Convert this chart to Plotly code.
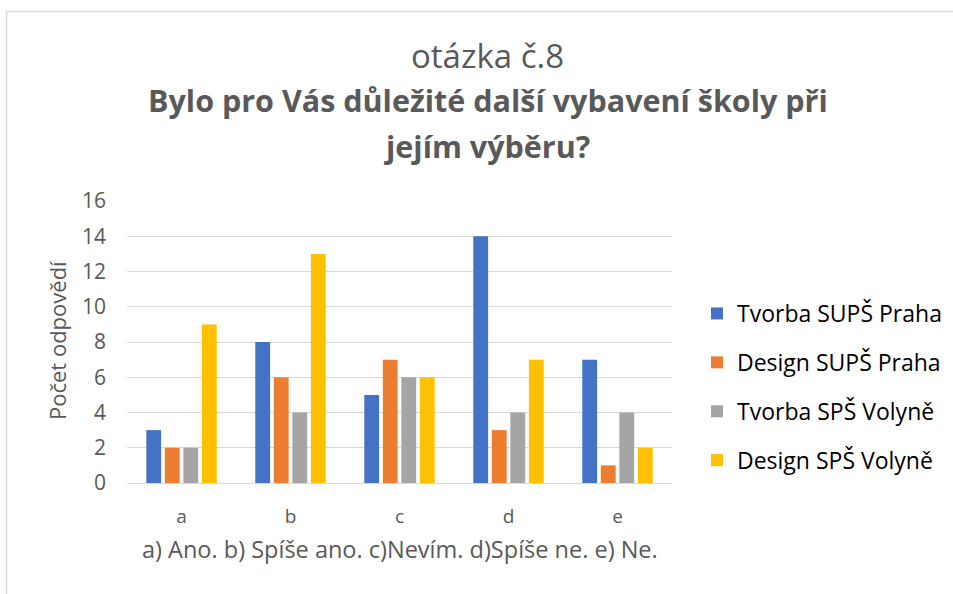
import plotly.graph_objects as go

categories = ["a", "b", "c", "d", "e"]
series_names = ["Tvorba SUPŠ Praha", "Design SUPŠ Praha", "Tvorba SPŠ Volyně", "Design SPŠ Volyně"]
tvorba_sups = [3, 8, 5, 14, 7]
design_sups = [2, 6, 7, 3, 1]
tvorba_sps = [2, 4, 6, 4, 4]
design_sps = [9, 13, 6, 7, 2]
colors = ["#4472C4", "#ED7D31", "#A5A5A5", "#FFC000"]
y_ticks = [0, 2, 4, 6, 8, 10, 12, 14, 16]

FONT = "Open Sans"
fig = go.Figure()
for name, vals, c in zip(series_names, [tvorba_sups, design_sups, tvorba_sps, design_sps], colors):
    fig.add_trace(go.Bar(x=categories, y=vals, name=name, marker=dict(color=c, line=dict(width=0)),
                         legendgroup=name))

W, H = 953, 594
L, R, T, B = 127, 672, 201, 483


def px(x):
    return (x - L) / (R - L)


def py(y):
    return (B - y) / (B - T)


fig.update_layout(
    width=W, height=H,
    margin=dict(l=L, r=W - R, t=T, b=H - B, autoexpand=False),
    paper_bgcolor="white", plot_bgcolor="white",
    barmode="group", bargap=0.32, bargroupgap=0.2,
    font=dict(family=FONT, color="#595959"),
    showlegend=True,
    legend=dict(x=px(697), y=py(292), xanchor="left", yanchor="top",
                font=dict(size=23, color="#000000", family=FONT),
                tracegroupgap=16, traceorder="grouped", itemwidth=30),
    xaxis=dict(showgrid=False, showline=False, ticks="", tickfont=dict(size=19, color="#595959"),
               ticklabelstandoff=20),
    yaxis=dict(range=[0, 16], tickvals=y_ticks, showgrid=True, gridcolor="#D9D9D9", gridwidth=1.3,
               zeroline=True, zerolinecolor="#D9D9D9", zerolinewidth=1.3, showline=False,
               tickfont=dict(size=21, color="#595959"), ticklabelstandoff=20),
)


def note(text, x, y, size, angle=0):
    fig.add_annotation(text=text, x=x, y=y, xref="paper", yref="paper", xanchor="center",
                       yanchor="middle", showarrow=False, textangle=angle,
                       font=dict(size=size, color="#595959", family=FONT))


note("otázka č.8", px(487), py(55), 33)
note("<b>Bylo pro Vás důležité další vybavení školy při</b>", px(488), py(100), 30.5)
note("<b>jejím výběru?</b>", px(487), py(146), 30.5)
note("Počet odpovědí", px(57), py(341), 22, angle=-90)
note("a) Ano. b) Spíše ano. c)Nevím. d)Spíše ne. e) Ne.", 0.5, py(549), 23.5)

fig.add_shape(type="rect", xref="paper", yref="paper", x0=px(6.5), y0=py(640), x1=px(1000), y1=py(11.5),
              line=dict(color="#D9D9D9", width=1.5), fillcolor="rgba(0,0,0,0)", layer="below")

fig.write_html("out.html", config={"displayModeBar": False},
               post_script="document.body.style.margin='0px';")
